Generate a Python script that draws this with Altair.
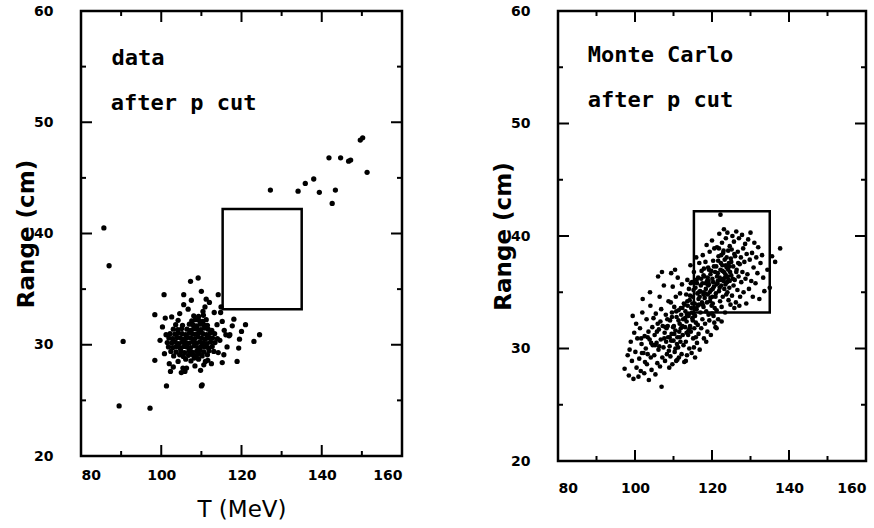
import altair as alt
import pandas as pd

# ---- data panel: (T [MeV], Range [cm]) ----
data_points = [
    # core
    (104.2,28.5),(106.1,28.7),(107.4,28.55),(109.3,28.7),(111.0,28.5),(108.2,28.8),
    (103.1,29.0),(104.6,29.1),(105.5,28.95),(106.8,29.05),(107.9,29.1),(108.7,28.95),(110.2,29.0),(111.5,29.1),(109.5,29.15),
    (102.4,29.4),(103.7,29.35),(104.9,29.45),(105.8,29.3),(106.9,29.45),(107.6,29.35),(108.8,29.4),(109.7,29.5),(110.6,29.35),(111.9,29.45),(113.1,29.4),
    (101.8,29.8),(102.9,29.75),(103.8,29.85),(104.7,29.7),(105.6,29.85),(106.4,29.8),(107.3,29.75),(108.2,29.9),(109.1,29.75),(110.0,29.85),(110.9,29.8),(111.8,29.7),(112.7,29.85),
    (101.5,30.2),(102.6,30.15),(103.5,30.25),(104.4,30.1),(105.3,30.25),(106.2,30.2),(107.0,30.15),(107.9,30.3),(108.8,30.15),(109.6,30.25),(110.5,30.2),(111.4,30.1),(112.3,30.25),(113.4,30.2),
    (101.9,30.6),(102.8,30.55),(103.9,30.65),(104.8,30.6),(105.7,30.5),(106.5,30.65),(107.4,30.6),(108.3,30.55),(109.2,30.7),(110.1,30.6),(111.0,30.5),(111.9,30.65),(112.8,30.6),(114.0,30.55),
    (102.2,31.0),(103.4,30.95),(104.3,31.05),(105.2,31.0),(106.1,30.9),(107.0,31.05),(107.8,31.0),(108.7,30.95),(109.5,31.1),(110.4,31.0),(111.3,30.9),(112.2,31.05),(113.3,31.0),
    (103.0,31.4),(104.1,31.35),(105.1,31.45),(106.4,31.4),(107.3,31.3),(108.1,31.45),(109.0,31.4),(109.9,31.35),(110.8,31.5),(111.7,31.4),(112.6,31.3),
    (103.6,31.8),(105.3,31.75),(107.0,31.85),(107.9,31.8),(108.8,31.7),(109.7,31.85),(110.6,31.8),(111.5,31.75),
    (104.2,32.2),(107.6,32.15),(108.5,32.25),(109.4,32.2),(110.3,32.1),(111.2,32.25),
    (108.1,32.6),(109.3,32.55),(110.5,32.65),
    # halo
    (100.3,31.6),(101.0,32.4),(100.8,29.2),(102.0,28.3),(99.7,30.4),(101.2,30.9),(113.9,31.8),(114.6,30.4),
    (114.2,29.3),(112.5,28.3),(103.0,28.0),(105.0,27.5),(106.3,27.9),(108.4,28.1),(109.8,27.7),(111.6,28.6),
    (113.2,32.9),(106.7,33.2),(104.6,32.8),(102.6,32.5),(110.9,33.4),(112.0,33.8),(107.5,34.0),(115.7,31.3),
    (116.4,29.8),(114.9,33.4),(110.4,33.0),
    # scattered points
    (85.7,40.5),(87.0,37.1),(90.5,30.3),(89.5,24.5),(97.2,24.3),(98.4,32.7),(98.4,28.6),(100.7,34.5),
    (101.3,26.3),(102.3,27.6),(105.6,34.5),(107.3,35.7),(109.2,36.0),(110.0,34.8),(110.0,26.3),(110.2,26.4),
    (110.6,28.2),(105.9,27.6),(105.4,27.9),(105.6,33.6),(111.2,34.1),(115.2,28.4),(115.6,29.1),(118.9,28.5),
    (119.3,29.7),(119.5,30.5),(121.0,31.8),(120.0,31.2),(123.1,30.3),(124.5,30.9),(118.1,32.3),(117.7,31.7),
    (116.9,30.8),(116.1,30.9),(117.1,30.9),(114.8,32.9),(115.2,32.1),(114.2,34.5),
    (127.2,43.9),(134.1,43.8),(135.9,44.5),(138.0,44.9),(139.4,43.7),(141.8,46.8),(142.6,42.7),(143.4,43.9),
    (144.7,46.8),(146.7,46.5),(147.2,46.6),(149.6,48.4),(150.2,48.6),(151.3,45.5),
]

# ---- Monte Carlo panel: (T [MeV], Range [cm]) ----
mc_points = [
    (97.3,28.2),(98.1,29.4),(98.4,27.6),(98.9,30.6),(99.2,28.9),(99.6,27.3),(99.8,31.4),(100.1,29.7),
    (100.4,28.3),(100.6,30.9),(100.9,27.5),(99.4,32.9),(100.3,32.2),(98.6,29.9),
    (101.1,29.1),(101.3,31.8),(101.5,28.0),(101.7,30.4),(101.9,33.2),(102.2,29.6),(102.4,27.8),(102.5,31.1),
    (102.8,30.0),(103.0,32.6),(103.1,28.6),(103.3,29.5),(103.5,31.5),(103.6,27.2),(103.8,30.8),(104.0,33.8),
    (104.1,29.2),(104.3,28.1),(104.5,31.9),(104.6,30.3),(104.8,32.7),(102.0,34.4),(103.9,35.0),(101.6,30.9),
    (105.0,29.4),(105.1,31.2),(105.3,27.7),(105.4,33.1),(105.6,30.5),(105.8,28.7),(105.9,32.2),(106.1,29.9),
    (106.2,31.7),(106.4,34.6),(106.5,28.4),(106.7,30.8),(106.8,33.5),(106.9,26.6),(107.1,29.2),(107.2,32.0),
    (107.4,30.1),(107.5,35.6),(107.7,31.4),(107.8,28.9),(108.0,33.0),(108.1,30.6),(108.3,29.5),(108.4,32.6),
    (108.6,31.0),(108.7,34.2),(108.9,28.3),(106.0,36.4),(107.0,36.8),(105.7,31.5),(108.2,31.8),(106.3,30.2),
    (107.6,30.9),
    (109.0,30.2),(109.1,32.5),(109.2,29.3),(109.3,34.1),(109.5,31.3),(109.6,33.2),(109.7,28.6),(109.8,35.5),
    (110.0,30.7),(110.1,32.0),(110.2,33.7),(110.3,29.7),(110.5,31.6),(110.6,34.6),(110.7,28.9),(110.8,32.8),
    (111.0,31.0),(111.1,36.3),(111.2,30.1),(111.3,33.4),(111.4,29.2),(111.6,32.2),(111.7,34.9),(111.8,30.6),
    (111.9,31.8),(112.0,33.0),(112.1,29.5),(112.2,35.7),(112.4,31.2),(112.5,32.6),(112.6,30.3),(112.7,34.0),
    (112.8,28.8),(109.4,36.7),(110.4,37.0),(111.5,31.5),(112.3,33.6),(110.9,30.4),(109.9,31.9),(111.0,29.0),
    (113.0,31.9),(113.1,33.3),(113.2,30.6),(113.3,34.8),(113.4,32.4),(113.5,29.4),(113.6,36.1),(113.7,33.8),
    (113.8,31.2),(113.9,32.9),(114.0,35.3),(114.1,30.0),(114.2,34.3),(114.3,32.0),(114.4,37.4),(114.5,31.5),
    (114.6,33.6),(114.7,29.6),(114.8,35.9),(114.9,32.7),(115.0,34.6),(115.1,30.9),(115.2,33.1),(115.3,36.8),
    (115.4,31.8),(115.5,34.0),(115.6,29.2),(115.7,35.4),(115.8,32.3),(115.9,38.1),(116.0,33.5),(116.1,30.5),
    (116.2,34.9),(116.3,32.1),(116.4,36.3),(116.5,31.3),(116.6,33.9),(116.7,37.6),(116.8,29.9),(116.9,35.1),
    (113.5,33.0),(114.3,34.7),(115.0,32.5),(115.8,31.0),(116.5,34.4),(113.9,31.6),(114.8,33.2),(116.1,35.8),
    (113.2,28.9),(115.3,30.1),
    (117.0,33.2),(117.1,35.6),(117.2,31.8),(117.3,36.9),(117.4,34.1),(117.5,32.6),(117.6,38.3),(117.7,35.0),
    (117.8,33.7),(117.9,30.9),(118.0,36.4),(118.1,34.5),(118.2,32.2),(118.3,37.7),(118.4,35.3),(118.5,33.3),
    (118.6,39.2),(118.7,36.0),(118.8,31.5),(118.9,34.8),(119.0,37.2),(119.1,33.0),(119.2,35.7),(119.3,32.5),
    (119.4,38.6),(119.5,34.2),(119.6,36.6),(119.7,31.2),(119.8,35.2),(119.9,33.8),(120.0,39.6),(120.1,36.2),
    (120.2,34.0),(120.3,37.8),(120.4,32.9),(120.5,35.5),(120.6,38.9),(120.7,33.6),(120.8,36.8),(120.9,31.9),
    (117.5,35.8),(118.2,34.9),(118.9,36.3),(119.6,34.5),(120.3,35.9),(117.8,36.5),(119.2,37.0),(120.0,33.1),
    (118.5,30.6),(120.6,32.3),
    (121.0,34.9),(121.1,37.3),(121.2,33.4),(121.3,39.0),(121.4,35.8),(121.5,36.7),(121.6,32.6),(121.7,38.2),
    (121.8,35.1),(121.9,40.2),(122.0,36.3),(122.1,34.2),(122.2,41.9),(122.3,37.6),(122.4,35.6),(122.5,33.7),
    (122.6,39.4),(122.7,36.9),(122.8,34.6),(122.9,38.5),(123.0,36.0),(123.1,40.6),(123.2,35.3),(123.3,37.9),
    (123.4,33.2),(123.5,36.6),(123.6,39.8),(123.7,34.8),(123.8,37.2),(123.9,35.9),(124.0,40.3),(124.1,36.4),
    (124.2,38.7),(124.3,34.3),(124.4,37.6),(124.5,35.4),(124.6,39.1),(124.7,36.8),(124.8,33.9),(124.9,38.0),
    (121.5,36.0),(122.2,37.0),(122.9,36.2),(123.6,37.4),(124.3,36.1),(121.8,38.9),(123.0,38.7),(124.0,35.0),
    (122.5,32.4),(121.2,31.8),
    (125.0,36.5),(125.1,38.8),(125.2,34.7),(125.3,40.0),(125.5,37.3),(125.6,35.6),(125.7,39.5),(125.9,36.1),
    (126.0,38.2),(126.2,34.1),(126.3,40.4),(126.4,37.0),(126.6,35.2),(126.7,38.6),(126.9,36.4),(127.0,39.8),
    (127.2,37.5),(127.3,34.6),(127.5,38.1),(127.6,35.9),(127.8,40.1),(127.9,36.8),(128.1,38.9),(128.2,35.0),
    (128.4,37.7),(128.6,39.3),(128.7,36.2),(128.9,34.0),(125.8,33.6),(127.1,33.8),
    (129.0,38.4),(129.2,36.6),(129.4,39.7),(129.6,35.3),(129.8,37.9),(130.0,40.3),(130.2,36.0),(130.4,38.5),
    (130.6,34.6),(130.8,37.2),(131.0,39.4),(131.3,35.8),(131.5,38.1),(131.8,36.7),(132.0,39.0),(132.3,34.4),
    (132.6,37.6),(133.0,38.3),(133.3,36.3),(133.6,35.1),
    (134.4,37.0),(135.6,38.2),(136.4,37.7),(137.7,38.9),(135.0,35.4),
    # denser band along the correlation
    (108.5,32.0),(109.0,31.0),(109.6,32.8),(110.2,31.3),(110.7,33.3),(111.3,32.5),(111.9,33.6),(112.3,32.0),
    (112.9,33.9),(113.4,31.4),(113.6,34.2),(114.0,33.1),(114.5,35.8),(114.9,34.0),(115.2,35.2),(115.6,32.9),
    (116.0,36.1),(116.3,33.8),(116.8,34.6),(117.2,36.2),(117.6,33.9),(117.9,37.1),(118.3,35.8),(118.7,34.1),
    (119.1,36.0),(119.4,35.0),(119.8,36.9),(120.2,35.3),(120.5,37.3),(120.9,34.6),(121.3,36.4),(121.6,37.8),
    (122.0,35.4),(122.4,38.3),(122.7,37.4),(123.1,36.8),(123.5,35.7),(123.8,38.1),(124.2,37.0),(124.6,36.0),
    (125.0,37.7),(125.4,36.2),(125.8,38.4),(126.3,36.8),(126.8,37.6),(113.0,32.7),(114.2,31.8),(115.4,33.6),
    (116.6,35.0),(117.8,34.8),(119.0,35.6),(120.1,34.6),(121.2,35.7),(122.3,36.1),(123.4,36.3),(124.5,37.3),
    (111.6,31.0),(110.5,30.0),(109.4,30.7),(108.8,29.8),(107.9,31.9),(106.6,32.4),(105.2,30.3),(104.2,30.5),
    (103.3,31.0),(102.6,28.8),(101.8,29.6),
]

# signal box (same cut in both panels)
box_T = [115.3, 135.0]
box_R = [33.2, 42.2]

x_labels = [80, 100, 120, 140, 160]
x_major = [100, 120, 140]
x_minor = [90, 110, 130, 150]
y_labels = [20, 30, 40, 50, 60]
y_major = [30, 40, 50]
y_minor = [25, 35, 45, 55]

left_text = ["data", "after p cut"]
left_text_T = [87.6, 87.4]
left_text_R = [55.8, 51.7]
right_text = ["Monte Carlo", "after p cut"]
right_text_T = [87.7, 87.7]
right_text_R = [56.1, 52.1]

FONT = "DejaVu Sans"
MAJOR = 11
MINOR = 5


def make_panel(points, texts, text_T, text_R, w, h, xtitle, xlabpad, size):
    xs = alt.Scale(domain=[80, 160], nice=False, zero=False)
    ys = alt.Scale(domain=[20, 60], nice=False, zero=False)
    xkw = dict(orient="bottom", values=x_labels, domain=False, grid=False, ticks=False,
               labelFont=FONT, labelFontSize=14, labelFontWeight="bold", labelColor="black",
               labelPadding=xlabpad)
    if xtitle:
        xaxis = alt.Axis(title=xtitle, titleFont=FONT, titleFontSize=23, titleFontWeight="normal",
                         titleColor="black", titlePadding=16, **xkw)
    else:
        xaxis = alt.Axis(title=None, **xkw)
    yaxis = alt.Axis(orient="left", values=y_labels, domain=False, grid=False, ticks=False,
                     labelFont=FONT, labelFontSize=14, labelFontWeight="bold", labelColor="black",
                     labelPadding=28,
                     title="Range (cm)", titleFont=FONT, titleFontSize=23,
                     titleFontWeight="bold", titleColor="black", titlePadding=-5)

    def X(field):
        return alt.X(field, scale=xs, axis=xaxis)

    def Y(field):
        return alt.Y(field, scale=ys, axis=yaxis)

    def tick_layer(vals, orient, length):
        df = pd.DataFrame({"v": vals})
        base = alt.Chart(df).mark_rule(color="black", strokeWidth=2)
        if orient == "bottom":
            return base.encode(x=X("v:Q"), y=alt.value(h), y2=alt.value(h - length))
        if orient == "top":
            return base.encode(x=X("v:Q"), y=alt.value(0), y2=alt.value(length))
        if orient == "left":
            return base.encode(y=Y("v:Q"), x=alt.value(0), x2=alt.value(length))
        return base.encode(y=Y("v:Q"), x=alt.value(w), x2=alt.value(w - length))

    pts = pd.DataFrame(points, columns=["T", "R"])
    box = pd.DataFrame({"T": [box_T[0]], "T2": [box_T[1]], "R": [box_R[0]], "R2": [box_R[1]]})
    txt = pd.DataFrame({"T": text_T, "R": text_R, "label": texts})

    scatter = alt.Chart(pts).mark_circle(size=size, color="black", opacity=1).encode(
        x=X("T:Q"), y=Y("R:Q"),
    )
    rect = alt.Chart(box).mark_rect(filled=False, stroke="black", strokeWidth=2.5).encode(
        x=X("T:Q"), x2="T2:Q", y=Y("R:Q"), y2="R2:Q",
    )
    labels = alt.Chart(txt).mark_text(
        align="left", baseline="middle", font="DejaVu Sans Mono", fontSize=22,
        fontWeight="bold", color="black"
    ).encode(x=X("T:Q"), y=Y("R:Q"), text="label:N")

    ticks = []
    for side in ("bottom", "top"):
        ticks.append(tick_layer(x_major, side, MAJOR))
        ticks.append(tick_layer(x_minor, side, MINOR))
    for side in ("left", "right"):
        ticks.append(tick_layer(y_major, side, MAJOR))
        ticks.append(tick_layer(y_minor, side, MINOR))
    return alt.layer(scatter, rect, labels, *ticks).properties(width=w, height=h)


left = make_panel(data_points, left_text, left_text_T, left_text_R, 321, 445, "T (MeV)", 12, 28)
right = make_panel(mc_points, right_text, right_text_T, right_text_R, 308, 450, None, 20, 22)

chart = alt.hconcat(left, right, spacing=86).properties(
    padding={"left": 14, "top": 2, "right": 5, "bottom": 0},
    background="white",
).configure_view(stroke="black", strokeWidth=2.5)

chart.save("out.html", embed_options={"renderer": "svg", "actions": False})
